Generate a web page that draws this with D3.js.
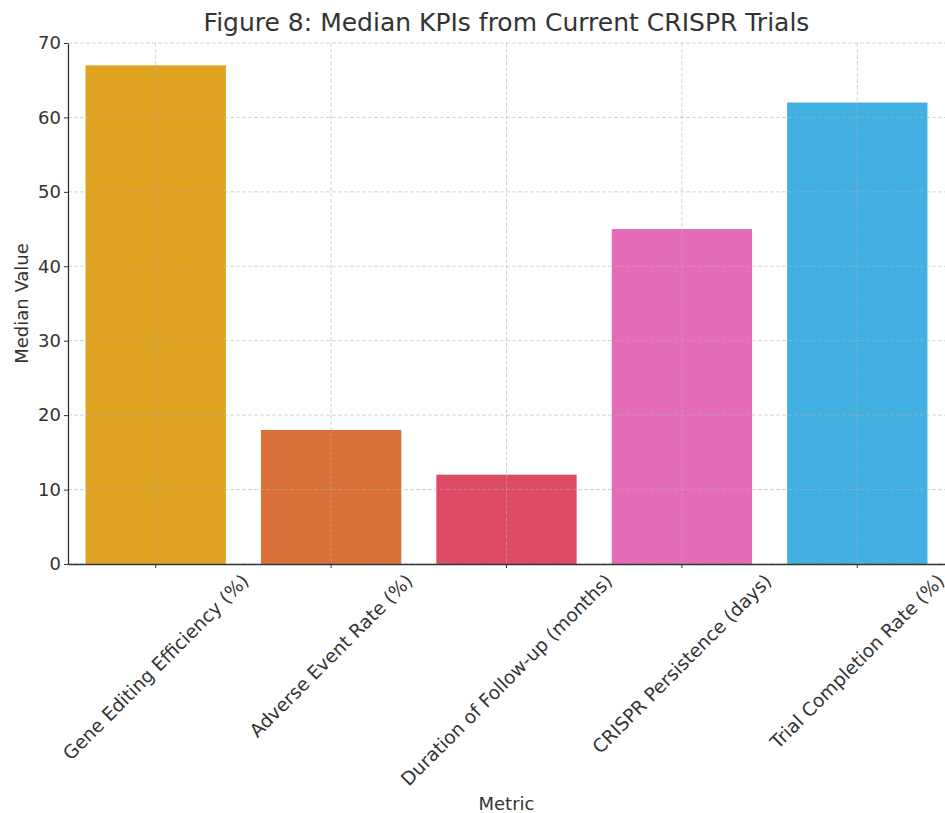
<!DOCTYPE html>
<html>
<head>
<meta charset="utf-8">
<script src="https://cdn.jsdelivr.net/npm/d3@7"></script>
<style>
  body { margin: 0; background: #fff; }
  text { font-family: "DejaVu Sans", sans-serif; fill: #333; }
</style>
</head>
<body>
<div class="chart_area"></div>
<script>
var metrics = ["Gene Editing Efficiency (%)", "Adverse Event Rate (%)", "Duration of Follow-up (months)", "CRISPR Persistence (days)", "Trial Completion Rate (%)"];
var medians = [67, 18, 12, 45, 62];
var barColors = ["#dfa221", "#d9703a", "#dc4a65", "#e36bb8", "#42b1e1"];
var yTicks = [0, 10, 20, 30, 40, 50, 60, 70];

var width = 945, height = 813;
var margin = {top: 43, right: 0, bottom: 249, left: 68},
    w = width - margin.left - margin.right,
    h = height - margin.top - margin.bottom;

var svg = d3.select(".chart_area").append("svg")
    .attr("width", width)
    .attr("height", height);

var g = svg.append("g")
    .attr("transform", "translate(" + margin.left + "," + margin.top + ")");

var x = d3.scaleBand()
    .domain(metrics)
    .range([0, w])
    .paddingInner(0.2)
    .paddingOuter(0.1);

var y = d3.scaleLinear()
    .domain([0, 70])
    .range([h, 0]);

// bars
g.selectAll(".bar")
    .data(metrics)
    .enter()
    .append("rect")
    .attr("class", "bar")
    .attr("x", function(d) { return x(d); })
    .attr("y", function(d, i) { return y(medians[i]); })
    .attr("width", x.bandwidth())
    .attr("height", function(d, i) { return h - y(medians[i]); })
    .attr("fill", function(d, i) { return barColors[i]; });

// grid on top, like the original
g.selectAll(".hgrid")
    .data(yTicks)
    .enter()
    .append("line")
    .attr("x1", 0).attr("x2", w)
    .attr("y1", function(d) { return y(d); })
    .attr("y2", function(d) { return y(d); })
    .attr("stroke", "#b0b0b0")
    .attr("stroke-opacity", 0.55)
    .attr("stroke-dasharray", "4,2");

g.selectAll(".vgrid")
    .data(metrics)
    .enter()
    .append("line")
    .attr("x1", function(d) { return x(d) + x.bandwidth() / 2; })
    .attr("x2", function(d) { return x(d) + x.bandwidth() / 2; })
    .attr("y1", 0).attr("y2", h)
    .attr("stroke", "#b0b0b0")
    .attr("stroke-opacity", 0.55)
    .attr("stroke-dasharray", "4,2");

// y axis
var yAxis = g.append("g")
    .call(d3.axisLeft(y).tickValues(yTicks).tickSize(4).tickPadding(3).tickSizeOuter(0));
yAxis.select(".domain").attr("stroke", "#333").attr("stroke-width", 1.3);
yAxis.selectAll("line").attr("stroke", "#333");
yAxis.selectAll("text").style("font-size", "18px").attr("fill", "#333");

// x axis
var xAxis = g.append("g")
    .attr("transform", "translate(0," + h + ")")
    .call(d3.axisBottom(x).tickSize(4).tickSizeOuter(0).tickFormat(""));
xAxis.select(".domain").attr("stroke", "#333").attr("stroke-width", 1.3);
xAxis.selectAll("line").attr("stroke", "#333");

// rotated category labels, centred under each tick
var s = Math.SQRT1_2;
metrics.forEach(function(m) {
  var cx = x(m) + x.bandwidth() / 2;
  var t = g.append("text")
      .attr("text-anchor", "middle")
      .attr("dy", "0.35em")
      .style("font-size", "18.6px")
      .text(m);
  var len = t.node().getComputedTextLength();
  var bh = (len + 18.6) * s;
  var cy = h + 7 + bh / 2;
  t.attr("transform", "translate(" + cx + "," + cy + ") rotate(-45)");
});

// axis titles
svg.append("text")
    .attr("x", margin.left + w / 2)
    .attr("y", 810)
    .attr("text-anchor", "middle")
    .style("font-size", "18px")
    .text("Metric");

svg.append("text")
    .attr("transform", "translate(28," + (margin.top + h / 2) + ") rotate(-90)")
    .attr("text-anchor", "middle")
    .style("font-size", "18px")
    .text("Median Value");

svg.append("text")
    .attr("x", margin.left + w / 2)
    .attr("y", 31)
    .attr("text-anchor", "middle")
    .style("font-size", "25px")
    .text("Figure 8: Median KPIs from Current CRISPR Trials");
</script>
</body>
</html>
